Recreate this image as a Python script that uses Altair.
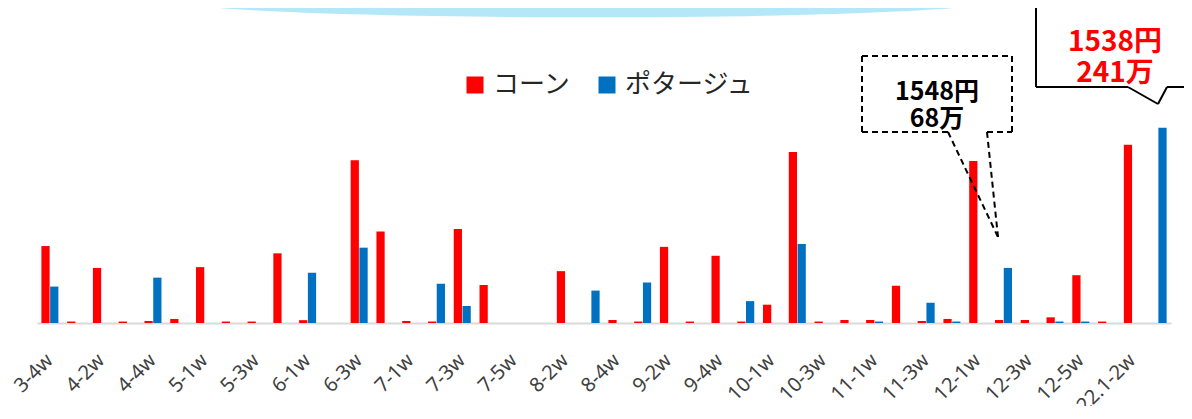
import altair as alt
import pandas as pd

categories = [
    "3-4w", "4-1w", "4-2w", "4-3w", "4-4w", "4-5w", "5-1w", "5-2w", "5-3w", "5-4w",
    "6-1w", "6-2w", "6-3w", "6-4w", "7-1w", "7-2w", "7-3w", "7-4w", "7-5w", "8-1w",
    "8-2w", "8-3w", "8-4w", "9-1w", "9-2w", "9-3w", "9-4w", "9-5w", "10-1w", "10-2w",
    "10-3w", "10-4w", "11-1w", "11-2w", "11-3w", "11-4w", "12-1w", "12-2w", "12-3w", "12-4w",
    "12-5w", "22.1-1w", "22.1-2w", "22.1-3w",
]

# values in 万
corn = [
    95, 1.8, 68, 1.8, 2.5, 5, 69, 1.8, 1.8, 86,
    3.5, 0, 201, 113, 2.5, 1.8, 116, 47, 0, 0,
    64, 0, 3.7, 1.8, 94, 1.8, 83, 1.8, 22.6, 211,
    1.8, 3.7, 3.7, 46, 2.5, 5, 200, 3.7, 3.7, 7,
    59, 1.8, 220, 0,
]
potage = [
    45, 0, 0, 0, 56, 0, 0, 0, 0, 0,
    62, 0, 93, 0, 0, 48.5, 21, 0, 0, 0,
    0, 40, 0, 50, 0, 0, 0, 27, 0, 97.6,
    0, 0, 1.8, 0, 25, 1.8, 0, 68, 0, 1.8,
    1.8, 0, 0, 241,
]
series = ["コーン", "ポタージュ"]
colors = ["#ff0000", "#0070c0"]
tick_labels = categories[::2]

rows = []
for i, c in enumerate(categories):
    rows.append({"week": c, "series": series[0], "value": corn[i]})
    rows.append({"week": c, "series": series[1], "value": potage[i]})
df = pd.DataFrame(rows)

W, H = 1134, 243

bars = alt.Chart(df).mark_bar().encode(
    x=alt.X("week:N", sort=categories,
            scale=alt.Scale(paddingInner=0.34, paddingOuter=0.17),
            axis=alt.Axis(values=tick_labels, title=None, labelAngle=-45,
                          labelAlign="right", labelBaseline="middle",
                          labelFont="Noto Sans", labelFontSize=20, labelColor="#404040",
                          labelPadding=34, ticks=False, domainColor="#d9d9d9",
                          domainWidth=2, grid=False, labelOverlap=False)),
    xOffset=alt.XOffset("series:N", sort=series, scale=alt.Scale(paddingInner=0.06)),
    y=alt.Y("value:Q", scale=alt.Scale(domain=[0, 300], nice=False), axis=None),
    color=alt.Color("series:N", sort=series,
                    scale=alt.Scale(domain=series, range=colors),
                    legend=alt.Legend(title=None, orient="none", direction="horizontal",
                                      legendX=425, legendY=-8, symbolType="square",
                                      symbolSize=289, symbolStrokeWidth=0,
                                      labelFont="Noto Sans CJK JP", labelFontSize=26,
                                      labelColor="#262626", labelOffset=5,
                                      columnPadding=22)),
)

one = pd.DataFrame({"a": [0]})

def seg(x1, y1, x2, y2, dash=None, color="black"):
    kw = dict(stroke=color, strokeWidth=2)
    if dash:
        kw["strokeDash"] = dash
    return alt.Chart(one).mark_rule(**kw).encode(
        x=alt.value(x1), y=alt.value(y1), x2=alt.value(x2), y2=alt.value(y2))

def txt(lines, x, y, color, size, lh):
    return alt.Chart(one).mark_text(text=lines, font="Noto Sans CJK JP", fontWeight="bold",
                                    fontSize=size, color=color, align="center",
                                    baseline="middle", lineHeight=lh).encode(
        x=alt.value(x), y=alt.value(y))

# decorative ellipse at top
deco = alt.Chart(one).mark_point(
    shape="M -1 0 A 1 0.042 0 0 0 1 0 Z", size=827 * 827, filled=True,
    fill="#b4e7f8", opacity=1, strokeWidth=0).encode(x=alt.value(549.5), y=alt.value(-80))

D = [6, 4]
callouts = [
    # dashed box
    seg(825, -24, 975, -24, D), seg(825, -24, 825, 52, D), seg(975, -24, 975, 52, D),
    seg(825, 52, 911, 52, D), seg(950, 52, 975, 52, D),
    seg(911, 52, 961, 157, D), seg(950, 52, 961, 157, D),
    txt(["1548円", "68万"], 900, 11.5, "black", 25, 27),
    # solid box
    seg(999, -90, 999, 7), seg(999, 7, 1091, 7), seg(1091, 7, 1121, 24),
    seg(1121, 24, 1130, 7), seg(1130, 7, 1170, 7),
    txt(["1538円", "241万"], 1078, -37.5, "#ff0000", 28, 31),
]

chart = alt.layer(deco, bars, *callouts).properties(
    width=W, height=H,
    autosize=alt.AutoSizeParams(type="none"),
    padding={"left": 29, "top": 72, "right": 13, "bottom": 83},
).configure_view(stroke=None)

chart.save("out.html", embed_options={"renderer": "svg", "actions": False})
